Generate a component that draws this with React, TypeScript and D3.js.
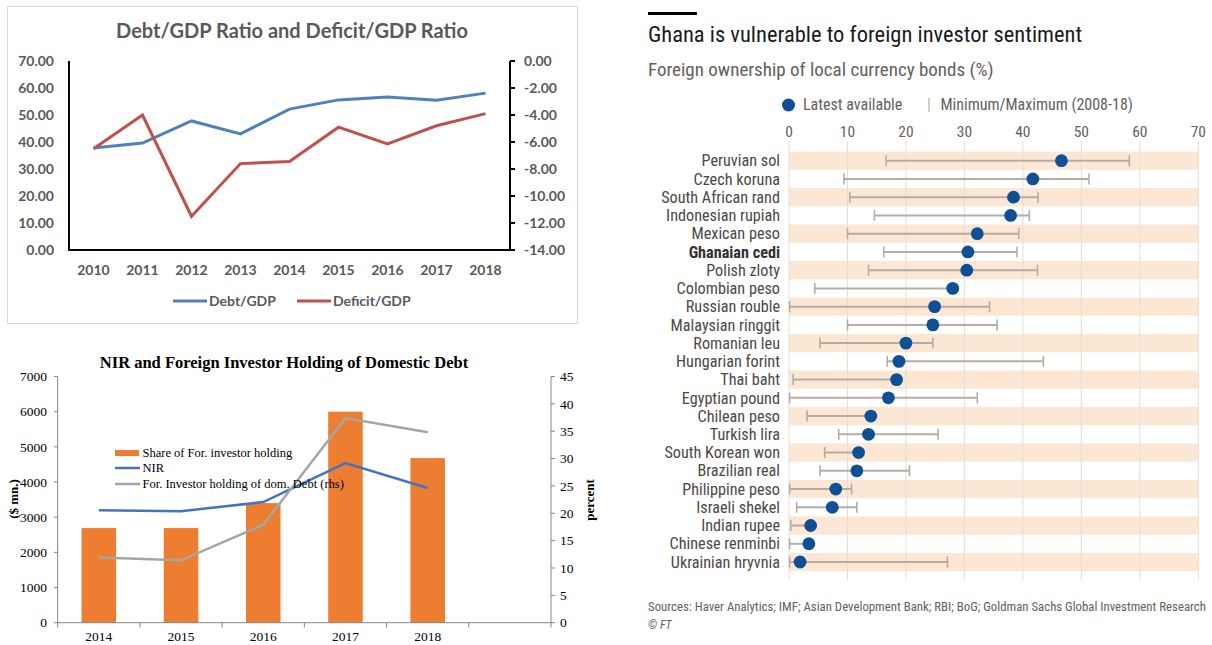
import React, { useEffect, useRef } from "react"
import * as d3 from "d3"

// --- chart 1: Debt/GDP and Deficit/GDP
const years1 = ["2010", "2011", "2012", "2013", "2014", "2015", "2016", "2017", "2018"]
const debtGdp = [37.8, 39.6, 47.8, 43.0, 52.2, 55.6, 56.7, 55.5, 58.1]
const deficitGdp = [-6.5, -4.0, -11.5, -7.6, -7.45, -4.9, -6.15, -4.8, -3.9]
const leftTicks1 = [0, 10, 20, 30, 40, 50, 60, 70]
const rightTicks1 = [0, -2, -4, -6, -8, -10, -12, -14]

// --- chart 2: NIR and foreign holding
const years2 = ["2014", "2015", "2016", "2017", "2018"]
const shareHolding = [2690, 2690, 3400, 6000, 4680]
const nir = [3200, 3170, 3430, 4540, 3830]
const forHolding = [11.9, 11.4, 17.9, 37.4, 34.8]
const leftTicks2 = [0, 1000, 2000, 3000, 4000, 5000, 6000, 7000]
const rightTicks2 = [0, 5, 10, 15, 20, 25, 30, 35, 40, 45]

// --- chart 3: FT foreign ownership
const currencies = [
    "Peruvian sol", "Czech koruna", "South African rand", "Indonesian rupiah", "Mexican peso",
    "Ghanaian cedi", "Polish zloty", "Colombian peso", "Russian rouble", "Malaysian ringgit",
    "Romanian leu", "Hungarian forint", "Thai baht", "Egyptian pound", "Chilean peso",
    "Turkish lira", "South Korean won", "Brazilian real", "Philippine peso", "Israeli shekel",
    "Indian rupee", "Chinese renminbi", "Ukrainian hryvnia"
]
const latest = [46.6, 41.7, 38.4, 37.9, 32.2, 30.6, 30.4, 28.0, 24.9, 24.6, 20.0, 18.8, 18.4, 17.0, 14.0, 13.6, 11.9, 11.6, 8.0, 7.4, 3.7, 3.4, 1.9]
const minVal = [16.6, 9.4, 10.4, 14.6, 10.0, 16.2, 13.6, 4.4, 0.1, 10.0, 5.3, 16.8, 0.7, 0.1, 3.1, 8.5, 6.1, 5.3, 0.1, 1.3, 0.3, 0.1, 0.1]
const maxVal = [58.2, 51.3, 42.6, 41.1, 39.3, 39.0, 42.5, 28.0, 34.3, 35.6, 24.6, 43.5, 18.4, 32.2, 14.0, 25.5, 11.9, 20.6, 10.7, 11.6, 3.7, 3.4, 27.1]
const xTicks3 = [0, 10, 20, 30, 40, 50, 60, 70]

const excelFont = "Lato, 'Open Sans', sans-serif"
const serifFont = "'Liberation Serif', 'Times New Roman', serif"
const ftFont = "'Liberation Sans Narrow', 'Roboto Condensed', Roboto, sans-serif"

function drawDebt(svg) {
    const g = svg.append("g")
    const grey = "#595959"
    g.append("rect").attr("x", 7.5).attr("y", 6.5).attr("width", 570).attr("height", 317)
        .attr("fill", "#fff").attr("stroke", "#d9d9d9")

    const x = d3.scaleBand().domain(years1).range([69, 510])
    const yL = d3.scaleLinear().domain([0, 70]).range([250, 61])
    const yR = d3.scaleLinear().domain([-14, 0]).range([250, 61])

    g.append("text").attr("x", 292).attr("y", 31).attr("dy", "0.35em").attr("text-anchor", "middle")
        .attr("font-family", excelFont).attr("font-weight", "bold").attr("font-size", 20).attr("fill", grey)
        .text("Debt/GDP Ratio and Deficit/GDP Ratio")

    g.append("path").attr("d", `M69,61V250H510V61`).attr("fill", "none").attr("stroke", "#000").attr("stroke-width", 2)
    g.selectAll(".rt").data(rightTicks1).enter().append("line")
        .attr("x1", 510).attr("x2", 515).attr("y1", d => yR(d)).attr("y2", d => yR(d))
        .attr("stroke", "#000").attr("stroke-width", 2)

    g.selectAll(".lt").data(leftTicks1).enter().append("text")
        .attr("x", 54).attr("y", d => yL(d)).attr("dy", "0.35em").attr("text-anchor", "end")
        .attr("font-family", excelFont).attr("font-weight", "bold").attr("font-size", 14).attr("fill", grey)
        .text(d => d.toFixed(2))
    g.selectAll(".rtl").data(rightTicks1).enter().append("text")
        .attr("x", 524).attr("y", d => yR(d)).attr("dy", "0.35em")
        .attr("font-family", excelFont).attr("font-weight", "bold").attr("font-size", 14).attr("fill", grey)
        .text(d => d === 0 ? "0.00" : d.toFixed(2))
    g.selectAll(".xl").data(years1).enter().append("text")
        .attr("x", d => x(d) + x.bandwidth() / 2).attr("y", 270).attr("dy", "0.35em").attr("text-anchor", "middle")
        .attr("font-family", excelFont).attr("font-weight", "bold").attr("font-size", 14).attr("fill", grey)
        .text(d => d)

    const lineL = d3.line().x((d, i) => x(years1[i]) + x.bandwidth() / 2).y(d => yL(d))
    const lineR = d3.line().x((d, i) => x(years1[i]) + x.bandwidth() / 2).y(d => yR(d))
    g.append("path").datum(debtGdp).attr("d", lineL).attr("fill", "none").attr("stroke", "#4f81bd").attr("stroke-width", 3)
    g.append("path").datum(deficitGdp).attr("d", lineR).attr("fill", "none").attr("stroke", "#c0504d").attr("stroke-width", 3)

    const legend = [{ name: "Debt/GDP", color: "#4f81bd", x: 173 }, { name: "Deficit/GDP", color: "#c0504d", x: 297 }]
    legend.forEach(l => {
        g.append("line").attr("x1", l.x).attr("x2", l.x + 34).attr("y1", 301).attr("y2", 301).attr("stroke", l.color).attr("stroke-width", 3)
        g.append("text").attr("x", l.x + 36).attr("y", 301).attr("dy", "0.35em")
            .attr("font-family", excelFont).attr("font-weight", "bold").attr("font-size", 14).attr("fill", grey).text(l.name)
    })
}

function drawNir(svg) {
    const g = svg.append("g")
    const axisCol = "#868686"
    const x = d3.scaleBand().domain([...years2, "blank"]).range([57.7, 551])
    const yL = d3.scaleLinear().domain([0, 7000]).range([622.7, 376.5])
    const yR = d3.scaleLinear().domain([0, 45]).range([622.7, 376.5])
    const bw = x.bandwidth()

    g.append("text").attr("x", 284).attr("y", 362).attr("dy", "0.35em").attr("text-anchor", "middle")
        .attr("font-family", serifFont).attr("font-weight", "bold").attr("font-size", 16.5).attr("fill", "#000")
        .text("NIR and Foreign Investor Holding of Domestic Debt")

    g.selectAll(".bar").data(shareHolding).enter().append("rect")
        .attr("x", (d, i) => x(years2[i]) + bw / 2 - bw * 0.21).attr("width", bw * 0.42)
        .attr("y", d => yL(d)).attr("height", d => yL(0) - yL(d)).attr("fill", "#ed7d31")

    g.append("line").attr("x1", 57.7).attr("x2", 57.7).attr("y1", 376.5).attr("y2", 622.7).attr("stroke", axisCol)
    g.append("line").attr("x1", 551).attr("x2", 551).attr("y1", 376.5).attr("y2", 622.7).attr("stroke", axisCol)
    g.append("line").attr("x1", 57.7).attr("x2", 551).attr("y1", 622.7).attr("y2", 622.7).attr("stroke", axisCol)
    g.selectAll(".lt").data(leftTicks2).enter().append("line")
        .attr("x1", 54).attr("x2", 57.7).attr("y1", d => yL(d)).attr("y2", d => yL(d)).attr("stroke", axisCol)
    g.selectAll(".rt").data(rightTicks2).enter().append("line")
        .attr("x1", 551).attr("x2", 555).attr("y1", d => yR(d)).attr("y2", d => yR(d)).attr("stroke", axisCol)
    const bounds = [...x.domain().map(d => x(d)), 551]
    g.selectAll(".xt").data(bounds).enter().append("line")
        .attr("x1", d => d).attr("x2", d => d).attr("y1", 622.7).attr("y2", 627.5).attr("stroke", axisCol)

    g.selectAll(".ltl").data(leftTicks2).enter().append("text")
        .attr("x", 47).attr("y", d => yL(d)).attr("dy", "0.35em").attr("text-anchor", "end")
        .attr("font-family", serifFont).attr("font-size", 13.5).attr("fill", "#000").text(d => d)
    g.selectAll(".rtl").data(rightTicks2).enter().append("text")
        .attr("x", 560).attr("y", d => yR(d)).attr("dy", "0.35em")
        .attr("font-family", serifFont).attr("font-size", 13.5).attr("fill", "#000").text(d => d)
    g.selectAll(".xl").data(years2).enter().append("text")
        .attr("x", d => x(d) + bw / 2).attr("y", 636).attr("dy", "0.35em").attr("text-anchor", "middle")
        .attr("font-family", serifFont).attr("font-size", 13.5).attr("fill", "#000").text(d => d)

    g.append("text").attr("transform", "translate(13,499) rotate(-90)").attr("text-anchor", "middle").attr("dy", "0.35em")
        .attr("font-family", serifFont).attr("font-weight", "bold").attr("font-size", 13).text("($ mn.)")
    g.append("text").attr("transform", "translate(589,500) rotate(-90)").attr("text-anchor", "middle").attr("dy", "0.35em")
        .attr("font-family", serifFont).attr("font-weight", "bold").attr("font-size", 13).text("percent")

    const lineL = d3.line().x((d, i) => x(years2[i]) + bw / 2).y(d => yL(d))
    const lineR = d3.line().x((d, i) => x(years2[i]) + bw / 2).y(d => yR(d))
    g.append("path").datum(nir).attr("d", lineL).attr("fill", "none").attr("stroke", "#4472c4").attr("stroke-width", 2.5)
    g.append("path").datum(forHolding).attr("d", lineR).attr("fill", "none").attr("stroke", "#a5a5a5").attr("stroke-width", 2.5)

    // legend
    g.append("rect").attr("x", 115).attr("y", 450).attr("width", 24).attr("height", 6).attr("fill", "#ed7d31")
    g.append("line").attr("x1", 115).attr("x2", 140).attr("y1", 468).attr("y2", 468).attr("stroke", "#4472c4").attr("stroke-width", 2.5)
    g.append("line").attr("x1", 115).attr("x2", 140).attr("y1", 484).attr("y2", 484).attr("stroke", "#a5a5a5").attr("stroke-width", 2.5)
    const labels = [["Share of For. investor holding", 453], ["NIR", 468], ["For. Investor holding of dom. Debt (rhs)", 484]]
    labels.forEach(([t, y]) => {
        g.append("text").attr("x", 142.5).attr("y", y).attr("dy", "0.35em")
            .attr("font-family", serifFont).attr("font-size", 12.5).attr("fill", "#000").text(t)
    })
}

function drawFt(svg) {
    const g = svg.append("g")
    const x = d3.scaleLinear().domain([0, 70]).range([789, 1198.3])
    const y = d3.scaleBand().domain(currencies).range([151.6, 151.6 + 18.24 * currencies.length])
    const bh = y.bandwidth()
    const blue = "#0f4f96"

    g.append("rect").attr("x", 648).attr("y", 12).attr("width", 49).attr("height", 3).attr("fill", "#000")
    g.append("text").attr("x", 648).attr("y", 41.5).attr("font-family", ftFont).attr("font-size", 22.5)
        .attr("fill", "#1a1a1a").text("Ghana is vulnerable to foreign investor sentiment")
    g.append("text").attr("x", 648).attr("y", 76).attr("font-family", ftFont).attr("font-size", 19)
        .attr("fill", "#66605c").text("Foreign ownership of local currency bonds (%)")

    // legend
    g.append("circle").attr("cx", 788.5).attr("cy", 105).attr("r", 6.5).attr("fill", blue)
    g.append("text").attr("x", 803).attr("y", 110).attr("font-family", ftFont).attr("font-size", 16)
        .attr("fill", "#66605c").text("Latest available")
    g.append("line").attr("x1", 929).attr("x2", 929).attr("y1", 98).attr("y2", 112).attr("stroke", "#b8aca2").attr("stroke-width", 1.2)
    g.append("text").attr("x", 940.5).attr("y", 110).attr("font-family", ftFont).attr("font-size", 16)
        .attr("fill", "#66605c").text("Minimum/Maximum (2008-18)")

    g.selectAll(".xl").data(xTicks3).enter().append("text")
        .attr("x", d => x(d)).attr("y", 137).attr("text-anchor", "middle")
        .attr("font-family", ftFont).attr("font-size", 15.5).attr("fill", "#66605c").text(d => d)

    g.selectAll(".band").data(currencies.filter((d, i) => i % 2 === 0)).enter().append("rect")
        .attr("x", x(0)).attr("width", x(70) - x(0)).attr("y", d => y(d)).attr("height", bh).attr("fill", "#fce6d4")

    g.selectAll(".grid").data(xTicks3).enter().append("line")
        .attr("x1", d => x(d)).attr("x2", d => x(d)).attr("y1", 141).attr("y2", 580)
        .attr("stroke", "#e6ddd5").attr("stroke-width", 1)

    g.selectAll(".rl").data(currencies).enter().append("text")
        .attr("x", 780).attr("y", d => y(d) + bh / 2).attr("dy", "0.35em").attr("text-anchor", "end")
        .attr("font-family", ftFont).attr("font-size", 16.2)
        .attr("font-weight", d => d === "Ghanaian cedi" ? "bold" : "normal")
        .attr("fill", d => d === "Ghanaian cedi" ? "#33302e" : "#4d4845").text(d => d)

    const rangeCol = "#b7aca3"
    currencies.forEach((c, i) => {
        const cy = y(c) + bh / 2
        g.append("line").attr("x1", x(minVal[i])).attr("x2", x(maxVal[i])).attr("y1", cy).attr("y2", cy)
            .attr("stroke", rangeCol).attr("stroke-width", 2)
        ;[minVal[i], maxVal[i]].forEach(v => {
            g.append("line").attr("x1", x(v)).attr("x2", x(v)).attr("y1", cy - 5.5).attr("y2", cy + 5.5)
                .attr("stroke", rangeCol).attr("stroke-width", 1.6)
        })
        g.append("circle").attr("cx", x(latest[i])).attr("cy", cy).attr("r", 6.4).attr("fill", blue)
    })

    g.append("text").attr("x", 648).attr("y", 611).attr("font-family", ftFont).attr("font-size", 12.8)
        .attr("fill", "#66605c").text("Sources: Haver Analytics; IMF; Asian Development Bank; RBI; BoG; Goldman Sachs Global Investment Research")
    g.append("text").attr("x", 648).attr("y", 629).attr("font-family", ftFont).attr("font-size", 12)
        .attr("font-style", "italic").attr("fill", "#66605c").text("© FT")
}

export default function App() {
    const ref = useRef(null)
    useEffect(() => {
        const svg = d3.select(ref.current)
        svg.selectAll("*").remove()
        drawDebt(svg)
        drawNir(svg)
        drawFt(svg)
    }, [])
    return (
        <svg ref={ref} width={1212} height={645}
            style={{ position: "absolute", left: 0, top: 0, background: "#fff" }} />
    )
}
